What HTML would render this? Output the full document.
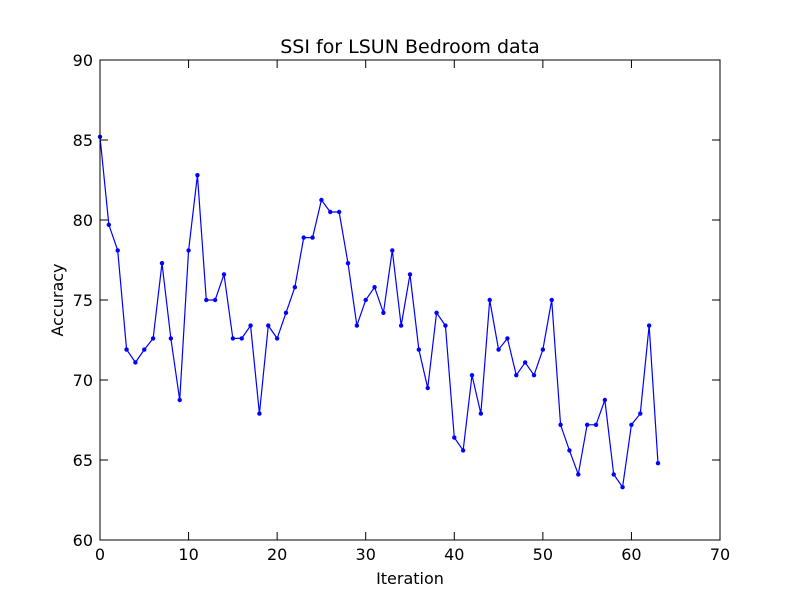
<!DOCTYPE html>
<html><head><meta charset="utf-8"><style>
body{margin:0;background:#fff;}
svg text{font-family:"DejaVu Sans","Liberation Sans",sans-serif;}
</style></head><body>
<svg id="chart" width="800" height="600" xmlns="http://www.w3.org/2000/svg">
<rect x="0" y="0" width="800" height="600" fill="#fff"/>
<text x="410" y="53" font-size="19" text-anchor="middle">SSI for LSUN Bedroom data</text>
<g id="ticks"></g>
<polyline id="line" fill="none" stroke="#0000ff" stroke-width="1.2"/>
<g id="pts"></g>
<rect x="100" y="60" width="620" height="480" fill="none" stroke="#000" stroke-width="1"/>
<text x="410" y="584" font-size="16" text-anchor="middle">Iteration</text>
<text x="63" y="300" font-size="16" text-anchor="middle" transform="rotate(-90 63 300)">Accuracy</text>
</svg>
<script>
const accuracy=[85.2,79.7,78.1,71.9,71.1,71.9,72.6,77.3,72.6,68.75,78.1,82.8,75,75,76.6,72.6,72.6,73.4,67.9,73.4,72.6,74.2,75.8,78.9,78.9,81.25,80.5,80.5,77.3,73.4,75,75.8,74.2,78.1,73.4,76.6,71.9,69.5,74.2,73.4,66.4,65.6,70.3,67.9,75,71.9,72.6,70.3,71.1,70.3,71.9,75,67.2,65.6,64.1,67.2,67.2,68.75,64.1,63.3,67.2,67.9,73.4,64.8];
const xTicks=[0,10,20,30,40,50,60,70];
const yTicks=[60,65,70,75,80,85,90];
const NS="http://www.w3.org/2000/svg";
function xs(v){return 100+v*620/70;}
function ys(v){return 540-(v-60)*480/30;}
const tg=document.getElementById('ticks');
function mk(tag,attrs){const e=document.createElementNS(NS,tag);for(const k in attrs)e.setAttribute(k,attrs[k]);return e;}
xTicks.forEach(t=>{const x=xs(t);
 const l1=mk('line',{x1:x,x2:x,y1:540,y2:532,stroke:'#000'});
 
 
 tg.appendChild(l1);
 const l2=mk('line',{x1:x,x2:x,y1:60,y2:68,stroke:'#000'});
 
 
 tg.appendChild(l2);
 const tx=mk('text',{x:x,y:560,'font-size':16,'text-anchor':'middle'});tx.textContent=t;
 
 
 tg.appendChild(tx);});
yTicks.forEach(t=>{const y=ys(t);
 const l1=mk('line',{x1:100,x2:108,y1:y,y2:y,stroke:'#000'});
 
 
 tg.appendChild(l1);
 const l2=mk('line',{x1:712,x2:720,y1:y,y2:y,stroke:'#000'});
 
 
 tg.appendChild(l2);
 const tx=mk('text',{x:93,y:y+6,'font-size':16,'text-anchor':'end'});tx.textContent=t;
 
 
 tg.appendChild(tx);});
document.getElementById('line').setAttribute('points',accuracy.map((v,i)=>xs(i)+','+ys(v)).join(' '));
const pg=document.getElementById('pts');
accuracy.forEach((v,i)=>{const c=mk('circle',{cx:xs(i),cy:ys(v),r:2.2,fill:'#0000ff'});
 
 
 pg.appendChild(c);});
</script>
</body></html>
